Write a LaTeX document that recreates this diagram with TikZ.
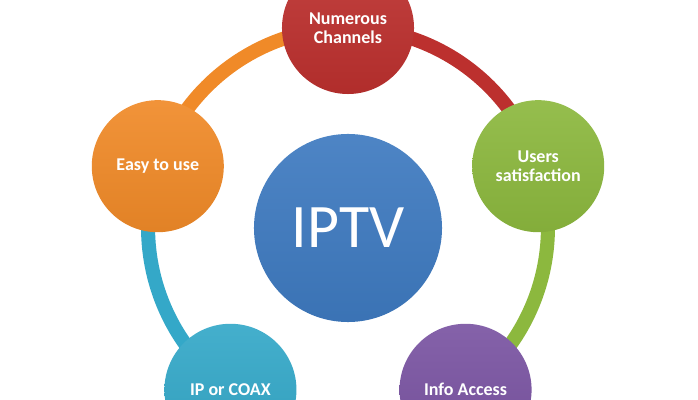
\documentclass[tikz,border=0pt]{standalone}
\usepackage{fontspec}
\setmainfont{Carlito}
\usepackage{xcolor}
\usepackage{tikz}
\usetikzlibrary{calc}
\usetikzlibrary{backgrounds}

\definecolor{hubblue}{RGB}{62,122,192}
\definecolor{chanred}{RGB}{188,48,46}
\definecolor{usergreen}{RGB}{140,184,62}
\definecolor{infopurple}{RGB}{122,84,162}
\definecolor{coaxcyan}{RGB}{52,168,200}
\definecolor{easyorange}{RGB}{240,138,40}

\begin{document}
\begin{tikzpicture}[x=0.025cm, y=0.025cm]
\tikzstyle{bubble} = [circle, minimum size=3.3cm, inner sep=0pt, align=center, text=white, font=\fontsize{12.8}{13.6}\selectfont\bfseries]
\tikzstyle{hub}    = [circle, minimum size=4.7cm, inner sep=0pt, text=white, font=\fontsize{44}{44}\selectfont]
\tikzstyle{ring}   = [line width=10pt, looseness=0.94]
\useasboundingbox (0,0) rectangle (698,400);
\clip (0,0) rectangle (698,400);
\node [hub, top color=hubblue!92!white, bottom color=hubblue!94!black](iptv) at (348, 172) {IPTV};
\node [bubble, top color=chanred!92!white, bottom color=chanred!94!black](chan) at ($(iptv) + (90:200)$) {Numerous\\Channels};
\node [bubble, top color=usergreen!92!white, bottom color=usergreen!94!black](users) at ($(iptv) + (18:200)$) {Users\\satisfaction};
\node [bubble, top color=infopurple!92!white, bottom color=infopurple!94!black](info) at ($(iptv) + (-54:200)$) {Info Access};
\node [bubble, top color=coaxcyan!92!white, bottom color=coaxcyan!94!black](coax) at ($(iptv) + (-126:200)$) {IP or COAX};
\node [bubble, top color=easyorange!92!white, bottom color=easyorange!94!black](easy) at ($(iptv) + (162:200)$) {Easy to use};
 %%Ring
\begin{scope}[on background layer]
\draw [ring, draw=chanred] (chan.center) to[bend left=36] (users.center);
\draw [ring, draw=usergreen] (users.center) to[bend left=36] (info.center);
\draw [ring, draw=infopurple] (info.center) to[bend left=36] (coax.center);
\draw [ring, draw=coaxcyan] (coax.center) to[bend left=36] (easy.center);
\draw [ring, draw=easyorange] (easy.center) to[bend left=36] (chan.center);
\end{scope}
\end{tikzpicture}
\end{document}
